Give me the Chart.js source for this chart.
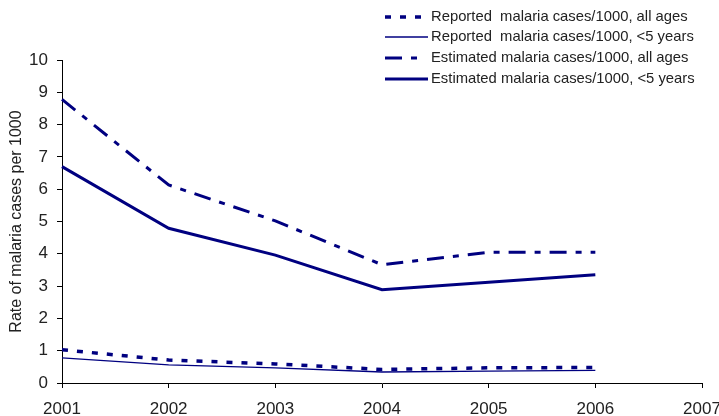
<!DOCTYPE html>
<html>
<head>
<meta charset="utf-8">
<script src="https://cdn.jsdelivr.net/npm/chart.js@4"></script>
<style>
    html, body { margin: 0; padding: 0; background: #fff; }
    #wrap { width: 719px; height: 416px; position: relative; }
</style>
</head>
<body>
<div id="wrap"><canvas id="malariaChart"></canvas></div>
<script>
const years = ['2001', '2002', '2003', '2004', '2005', '2006', '2007'];
const reportedAll = [1.03, 0.71, 0.59, 0.42, 0.47, 0.48];
const reportedUnder5 = [0.78, 0.56, 0.47, 0.34, 0.37, 0.39];
const estimatedAll = [8.78, 6.13, 5.02, 3.66, 4.05, 4.05];
const estimatedUnder5 = [6.70, 4.79, 3.96, 2.89, 3.12, 3.35];
const yTicks = [0, 1, 2, 3, 4, 5, 6, 7, 8, 9, 10];

const navy = '#000080';
const textColor = '#222';

// legend drawn by hand so it can sit over the top right of the plot
const sideLegend = {
    id: 'sideLegend',
    afterDraw(chart) {
        const ctx = chart.ctx;
        const rows = [17, 37, 58, 79];
        ctx.save();
        ctx.font = '14.8px "Liberation Sans", Arial, sans-serif';
        ctx.fillStyle = textColor;
        ctx.textBaseline = 'middle';
        chart.data.datasets.forEach((ds, i) => {
            const y = rows[i];
            ctx.strokeStyle = ds.borderColor;
            ctx.lineWidth = ds.borderWidth;
            ctx.setLineDash(ds.borderDash || []);
            ctx.beginPath();
            ctx.moveTo(385, y);
            ctx.lineTo(ds.legendEnd, y);
            ctx.stroke();
            ctx.setLineDash([]);
            ctx.fillText(ds.label, 431, y);
        });
        ctx.restore();
    }
};

const ctx = document.getElementById('malariaChart');

new Chart(ctx, {
    type: 'line',
    data: {
        labels: years,
        datasets: [
            {
                label: 'Reported  malaria cases/1000, all ages',
                data: reportedAll,
                borderColor: navy,
                borderWidth: 3.5,
                borderDash: [6, 9],
                legendEnd: 421
            },
            {
                label: 'Reported  malaria cases/1000, <5 years',
                data: reportedUnder5,
                borderColor: navy,
                borderWidth: 1.3,
                legendEnd: 428
            },
            {
                label: 'Estimated malaria cases/1000, all ages',
                data: estimatedAll,
                borderColor: navy,
                borderWidth: 3,
                borderDash: [17, 9, 6, 9],
                legendEnd: 418
            },
            {
                label: 'Estimated malaria cases/1000, <5 years',
                data: estimatedUnder5,
                borderColor: navy,
                borderWidth: 3,
                legendEnd: 428
            }
        ]
    },
    options: {
        responsive: true,
        maintainAspectRatio: false,
        animation: false,
        elements: {
            point: {radius: 0, hoverRadius: 0},
            line: {tension: 0, fill: false}
        },
        layout: {padding: {top: 60, right: 17, left: 0, bottom: 0}},
        plugins: {
            legend: {display: false},
            tooltip: {enabled: false}
        },
        scales: {
            x: {
                offset: false,
                grid: {drawOnChartArea: false, drawTicks: true, tickLength: 5, color: '#000'},
                border: {color: '#000', width: 1},
                ticks: {
                    color: textColor,
                    padding: 11,
                    maxRotation: 0,
                    autoSkip: false,
                    font: {family: '"Liberation Sans", Arial, sans-serif', size: 17}
                },
                afterFit(s) {
                    s.height = 33;
                    s.paddingLeft = 0;
                    s.paddingRight = 0;
                }
            },
            y: {
                min: 0,
                max: 10,
                grid: {drawOnChartArea: false, drawTicks: true, tickLength: 5, color: '#000'},
                border: {color: '#000', width: 1},
                afterBuildTicks(s) {
                    s.ticks = yTicks.map(v => ({value: v}));
                },
                ticks: {
                    color: textColor,
                    padding: 9,
                    font: {family: '"Liberation Sans", Arial, sans-serif', size: 17}
                },
                title: {
                    display: true,
                    text: 'Rate of malaria cases per 1000',
                    color: textColor,
                    padding: {top: 7, bottom: 0},
                    font: {family: '"Liberation Sans", Arial, sans-serif', size: 16}
                },
                afterFit(s) {
                    s.width = 62;
                }
            }
        }
    },
    plugins: [sideLegend]
});
</script>
</body>
</html>
